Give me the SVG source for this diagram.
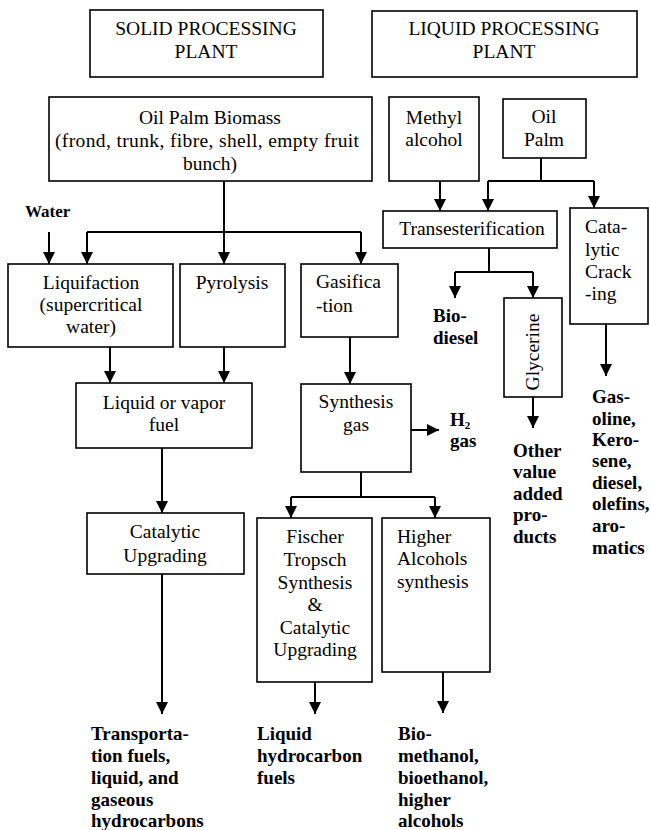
<svg xmlns="http://www.w3.org/2000/svg" width="650" height="830" viewBox="0 0 650 830">
<defs>
<marker id="ah" viewBox="0 0 10 10" refX="10" refY="5" markerWidth="12" markerHeight="12" markerUnits="userSpaceOnUse" orient="auto">
<path d="M0,0 L10,5 L0,10 z" fill="#000"/>
</marker>
<style>
rect{fill:#fff;stroke:#000;stroke-width:1.6}
text{font-family:'Liberation Serif','Times New Roman',Times,Tinos,'Nimbus Roman','Nimbus Roman No9 L',FreeSerif,'Noto Serif','DejaVu Serif',Georgia,serif;font-size:19.5px;fill:#000}
.c{text-anchor:middle}
.b{font-weight:bold;font-size:19px}
#connectors path{fill:none;stroke:#000;stroke-width:2}
.a{marker-end:url(#ah)}
</style>
</defs>
<rect x="0" y="0" width="650" height="830" style="fill:#fff;stroke:none"/>

<g id="solid-plant"><rect x="90" y="10" width="233" height="67"/>
<text class="c" x="206" y="35">SOLID PROCESSING</text><text class="c" x="206" y="58">PLANT</text></g>
<g id="liquid-plant"><rect x="372" y="11" width="265" height="66"/>
<text class="c" x="504" y="35">LIQUID PROCESSING</text><text class="c" x="504" y="58">PLANT</text></g>

<g id="biomass"><rect x="49" y="97" width="323" height="84"/>
<text class="c" x="210" y="124">Oil Palm Biomass</text>
<text class="c" x="207" y="147" textLength="304" lengthAdjust="spacing">(frond, trunk, fibre, shell, empty fruit</text>
<text class="c" x="210" y="170">bunch)</text></g>
<g id="methyl"><rect x="389" y="97" width="90" height="84"/>
<text class="c" x="434" y="124">Methyl</text><text class="c" x="434" y="146">alcohol</text></g>
<g id="oilpalm"><rect x="503" y="99" width="83" height="59"/>
<text class="c" x="544" y="123">Oil</text><text class="c" x="544" y="146">Palm</text></g>

<g id="water"><text class="b" x="25" y="217" style="font-size:17px">Water</text></g>
<g id="liquifaction"><rect x="8" y="264" width="165" height="83"/>
<text class="c" x="91" y="289">Liquifaction</text><text class="c" x="91" y="311">(supercritical</text><text class="c" x="91" y="333">water)</text></g>
<g id="pyrolysis"><rect x="180" y="264" width="105" height="83"/>
<text class="c" x="232" y="289">Pyrolysis</text></g>
<g id="gasification"><rect x="301" y="264" width="97" height="73"/>
<text x="316" y="288">Gasifica</text><text x="316" y="312">-tion</text></g>

<g id="transesterification"><rect x="383" y="211" width="174" height="37"/>
<text class="c" x="472" y="235">Transesterification</text></g>
<g id="cracking"><rect x="570" y="208" width="78" height="116"/>
<text x="585" y="233">Cata-</text><text x="585" y="256">lytic</text><text x="585" y="278">Crack</text><text x="585" y="300">-ing</text></g>
<g id="biodiesel"><text class="b" x="433" y="322">Bio-</text><text class="b" x="433" y="344">diesel</text></g>
<g id="glycerine"><rect x="504" y="298" width="58" height="99"/>
<text class="c" transform="translate(539,352) rotate(-90)" x="0" y="0">Glycerine</text></g>
<g id="other-products"><text class="b" x="513" y="457">Other</text><text class="b" x="513" y="478">value</text><text class="b" x="513" y="500">added</text><text class="b" x="513" y="521">pro-</text><text class="b" x="513" y="543">ducts</text></g>
<g id="gasoline"><text class="b" x="592" y="403">Gas-</text><text class="b" x="592" y="425">oline,</text><text class="b" x="592" y="446">Kero-</text><text class="b" x="592" y="467">sene,</text><text class="b" x="592" y="489">diesel,</text><text class="b" x="592" y="510">olefins,</text><text class="b" x="592" y="532">aro-</text><text class="b" x="592" y="554">matics</text></g>

<g id="liquid-fuel"><rect x="76" y="383" width="176" height="65"/>
<text class="c" x="164" y="409">Liquid or vapor</text><text class="c" x="164" y="431">fuel</text></g>
<g id="synthesis-gas"><rect x="301" y="384" width="110" height="88"/>
<text class="c" x="356" y="408">Synthesis</text><text class="c" x="356" y="431">gas</text></g>
<g id="h2"><text class="b" x="450" y="426">H<tspan dy="3" style="font-size:11px">2</tspan></text><text class="b" x="450" y="447">gas</text></g>
<g id="catalytic-upgrading"><rect x="87" y="513" width="157" height="61"/>
<text class="c" x="165" y="538">Catalytic</text><text class="c" x="165" y="562">Upgrading</text></g>
<g id="fischer"><rect x="257" y="518" width="115" height="164"/>
<text class="c" x="315" y="543">Fischer</text><text class="c" x="315" y="566">Tropsch</text><text class="c" x="315" y="589">Synthesis</text><text class="c" x="315" y="611">&amp;</text><text class="c" x="315" y="634">Catalytic</text><text class="c" x="315" y="656">Upgrading</text></g>
<g id="higher-alcohols"><rect x="382" y="518" width="108" height="154"/>
<text x="397" y="543">Higher</text><text x="397" y="565">Alcohols</text><text x="397" y="588">synthesis</text></g>

<g id="transportation"><text class="b" x="91" y="740">Transporta-</text><text class="b" x="91" y="762">tion fuels,</text><text class="b" x="91" y="784"> liquid, and</text><text class="b" x="91" y="806">gaseous</text><text class="b" x="91" y="827">hydrocarbons</text></g>
<g id="liquid-hc"><text class="b" x="257" y="740">Liquid</text><text class="b" x="257" y="762">hydrocarbon</text><text class="b" x="257" y="784">fuels</text></g>
<g id="bio-alcohols"><text class="b" x="398" y="740">Bio-</text><text class="b" x="398" y="762">methanol,</text><text class="b" x="398" y="784">bioethanol,</text><text class="b" x="398" y="806">higher</text><text class="b" x="398" y="827">alcohols</text></g>

<g id="connectors">
<path d="M87,232 H361"/>
<path class="a" d="M224,181 V264"/>
<path class="a" d="M87,232 V264"/>
<path class="a" d="M361,232 V264"/>
<path class="a" d="M49,232 V264"/>
<path class="a" d="M110,347 V383"/>
<path class="a" d="M224,347 V383"/>
<path class="a" d="M350,337 V384"/>
<path class="a" d="M162,448 V513"/>
<path class="a" d="M162,574 V714"/>
<path class="a" d="M411,430 H439"/>
<path d="M361,472 V497 M291,497 H435"/>
<path class="a" d="M291,497 V518"/>
<path class="a" d="M435,497 V518"/>
<path class="a" d="M315,682 V714"/>
<path class="a" d="M443,672 V713"/>
<path class="a" d="M440,181 V211"/>
<path d="M541,158 V181 M488,181 H594"/>
<path class="a" d="M488,181 V211"/>
<path class="a" d="M594,181 V208"/>
<path d="M489,248 V272 M455,272 H533"/>
<path class="a" d="M455,272 V298"/>
<path class="a" d="M533,272 V298"/>
<path class="a" d="M533,397 V428"/>
<path class="a" d="M606,324 V376"/>
</g>
</svg>
